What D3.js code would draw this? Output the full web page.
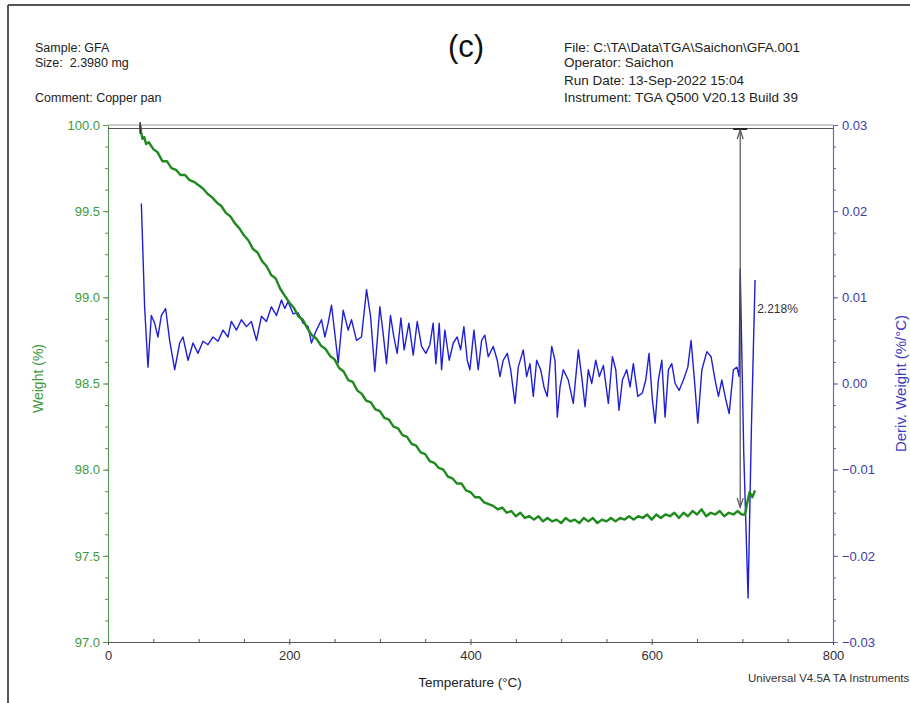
<!DOCTYPE html>
<html>
<head>
<meta charset="utf-8">
<script src="https://cdn.jsdelivr.net/npm/d3@7"></script>
<style>
  body { margin: 0; background: #fff; }
  text { font-family: "Liberation Sans", Arial, sans-serif; }
</style>
</head>
<body>
<script>
// TGA weight curve (green) - temperature (C) and weight (%)
const wTemp = [35.5, 36.5, 38, 40, 42, 45, 50, 55, 60, 65, 70, 75, 80, 85, 90, 95, 100, 105, 110, 115,
  120, 125, 130, 135, 140, 145, 150, 155, 160, 165, 170, 175, 180, 185, 190, 195, 200, 205, 210, 215,
  220, 225, 230, 235, 240, 245, 250, 255, 260, 265, 270, 275, 280, 285, 290, 295, 300, 305, 310, 315,
  320, 325, 330, 335, 340, 345, 350, 355, 360, 365, 370, 375, 380, 385, 390, 395, 400, 405, 410, 415,
  420, 425, 430, 435, 440, 445, 450, 455, 460, 465, 470, 475, 480, 485, 490, 495, 500, 505, 510, 515,
  520, 525, 530, 535, 540, 545, 550, 555, 560, 565, 570, 575, 580, 585, 590, 595, 600, 605, 610, 615,
  620, 625, 630, 635, 640, 645, 650, 655, 660, 665, 670, 675, 680, 685, 690, 695, 699, 703, 705, 708, 711, 714];
const weight = [100.00, 99.96, 99.92, 99.93, 99.89, 99.90, 99.86, 99.84, 99.79, 99.79, 99.75, 99.74, 99.71, 99.71, 99.68, 99.67, 99.65, 99.63, 99.60, 99.58,
  99.55, 99.53, 99.49, 99.47, 99.43, 99.40, 99.36, 99.33, 99.28, 99.26, 99.21, 99.18, 99.13, 99.11, 99.05, 99.01, 98.97, 98.94, 98.89, 98.87,
  98.82, 98.78, 98.76, 98.72, 98.70, 98.66, 98.64, 98.59, 98.57, 98.52, 98.51, 98.46, 98.44, 98.40, 98.39, 98.35, 98.34, 98.30, 98.29, 98.25,
  98.24, 98.20, 98.19, 98.15, 98.14, 98.10, 98.09, 98.05, 98.04, 98.01, 98.00, 97.96, 97.95, 97.92, 97.92, 97.88, 97.87, 97.84, 97.84, 97.81,
  97.80, 97.79, 97.77, 97.78, 97.75, 97.76, 97.73, 97.75, 97.72, 97.73, 97.71, 97.73, 97.70, 97.72, 97.70, 97.71, 97.69, 97.72, 97.70, 97.71,
  97.69, 97.72, 97.70, 97.72, 97.69, 97.71, 97.70, 97.72, 97.70, 97.72, 97.71, 97.73, 97.71, 97.73, 97.72, 97.74, 97.71, 97.74, 97.72, 97.74,
  97.73, 97.75, 97.72, 97.75, 97.73, 97.76, 97.74, 97.77, 97.73, 97.75, 97.74, 97.76, 97.73, 97.75, 97.74, 97.76, 97.74, 97.74, 97.80, 97.87, 97.84, 97.88];

// Derivative curve (blue) - temperature (C) and deriv weight (%/C)
const dTemp = [36.8, 40.4, 44.1, 47.8, 51.5, 55.1, 58.9, 63.6, 68.0, 73.6, 79.1, 82.7, 88.3, 93.8, 99.3, 104.8, 110.3, 115.9, 121.4, 126.9,
  132.4, 136.1, 141.7, 147.2, 152.7, 158.2, 163.8, 169.3, 174.8, 180.3, 185.9, 191.4, 195.1, 198.7, 204.2, 209.8, 215.3, 220.8, 224.5, 230.0,
  235.6, 239.3, 242.9, 246.6, 250.3, 254.0, 259.5, 265.0, 268.7, 274.2, 279.7, 285.3, 289.7, 294.4, 300.0, 303.6, 307.3, 311.7, 315.4, 319.1,
  323.2, 326.8, 332.0, 336.8, 341.2, 346.0, 350.8, 355.2, 358.8, 361.8, 365.5, 368.1, 371.7, 376.5, 381.0, 385.3, 389.1, 392.7, 396.4, 399.3,
  403.8, 408.5, 412.3, 415.9, 419.6, 425.1, 429.5, 432.5, 436.1, 440.6, 444.3, 449.1, 452.7, 458.2, 462.0, 465.6, 469.3, 473.0, 477.4, 481.1,
  484.7, 489.6, 493.2, 495.8, 498.8, 502.4, 507.9, 513.4, 519.0, 522.7, 526.4, 530.0, 533.8, 538.2, 542.2, 546.6, 552.1, 556.6, 560.3, 563.9,
  567.6, 572.4, 576.1, 579.7, 584.6, 589.6, 593.4, 597.0, 600.7, 603.7, 607.3, 611.1, 614.7, 618.4, 622.1, 625.8, 630.2, 634.9, 639.8, 643.4,
  647.1, 650.8, 655.3, 660.8, 665.5, 669.9, 673.6, 677.3, 681.8, 685.4, 690.1, 693.9, 696.4, 697.6, 701.5, 706.3, 710.0, 714.0];
const deriv = [0.0209, 0.0089, 0.0019, 0.0079, 0.0070, 0.0054, 0.0079, 0.0087, 0.0050, 0.0016, 0.0047, 0.0054, 0.0027, 0.0047, 0.0035, 0.0049, 0.0045, 0.0054, 0.0049, 0.0062,
  0.0054, 0.0072, 0.0062, 0.0074, 0.0066, 0.0072, 0.0050, 0.0078, 0.0072, 0.0089, 0.0079, 0.0097, 0.0087, 0.0095, 0.0081, 0.0082, 0.0070, 0.0066, 0.0047, 0.0062,
  0.0074, 0.0054, 0.0070, 0.0091, 0.0058, 0.0024, 0.0085, 0.0062, 0.0074, 0.0050, 0.0054, 0.0109, 0.0078, 0.0014, 0.0089, 0.0058, 0.0023, 0.0079, 0.0054, 0.0035,
  0.0076, 0.0039, 0.0070, 0.0033, 0.0072, 0.0043, 0.0035, 0.0045, 0.0070, 0.0023, 0.0070, 0.0016, 0.0062, 0.0027, 0.0047, 0.0054, 0.0039, 0.0066, 0.0027, 0.0016,
  0.0062, 0.0016, 0.0050, 0.0056, 0.0031, 0.0043, 0.0027, 0.0008, 0.0027, 0.0035, 0.0016, -0.0023, 0.0019, 0.0039, 0.0008, 0.0023, -0.0015, 0.0027, 0.0016, -0.0004,
  -0.0015, 0.0043, 0.0027, -0.0039, -0.0004, 0.0016, 0.0004, -0.0023, 0.0039, 0.0008, -0.0027, 0.0016, 0.0000, 0.0027, 0.0008, 0.0021, -0.0023, 0.0031, 0.0016, -0.0031,
  0.0004, 0.0016, -0.0004, 0.0023, -0.0015, -0.0011, 0.0004, 0.0035, -0.0019, -0.0046, 0.0004, 0.0027, -0.0039, 0.0016, 0.0023, 0.0000, -0.0008, 0.0004, 0.0019, 0.0050,
  0.0004, -0.0046, 0.0016, 0.0037, 0.0031, 0.0004, -0.0015, 0.0004, -0.0019, -0.0035, 0.0016, 0.0019, 0.0008, 0.0133, -0.0080, -0.0249, -0.0050, 0.0120];

// Axis ticks
const xTicks = [0, 200, 400, 600, 800];
const wTicks = [97.0, 97.5, 98.0, 98.5, 99.0, 99.5, 100.0];
const dTicks = [-0.03, -0.02, -0.01, 0.00, 0.01, 0.02, 0.03];

// Step annotation: start temp, end temp, weight change
const stepStart = 35.5;
const stepTemp = 697.6;
const stepLoss = 2.218;

const headerLeft = ["Sample: GFA", "Size:  2.3980 mg", "Comment: Copper pan"];
const headerRight = ["File: C:\\TA\\Data\\TGA\\Saichon\\GFA.001", "Operator: Saichon",
  "Run Date: 13-Sep-2022 15:04", "Instrument: TGA Q500 V20.13 Build 39"];

const W = 910, H = 703;
const pLeft = 108, pRight = 833, pTop = 125, pBottom = 642;

const svg = d3.select("body").append("svg")
  .attr("width", W)
  .attr("height", H);

// page frame (top and left edge of scanned page)
svg.append("line").attr("x1", 8).attr("x2", W).attr("y1", 5).attr("y2", 5)
  .attr("stroke", "#555").attr("stroke-width", 2);
svg.append("line").attr("x1", 8).attr("x2", 8).attr("y1", 5).attr("y2", H)
  .attr("stroke", "#555").attr("stroke-width", 2);

const x = d3.scaleLinear().domain([0, 800]).range([pLeft, pRight]);
const yW = d3.scaleLinear().domain([97, 100]).range([pBottom, pTop]);
const yD = d3.scaleLinear().domain([-0.03, 0.03]).range([pBottom, pTop]);

// header text
const leftY = [47, 62, 97];
svg.selectAll(".hl").data(headerLeft).join("text")
  .attr("class", "hl")
  .attr("x", 35).attr("y", (d, i) => leftY[i] + 4.5)
  .attr("font-size", 12.5).attr("fill", "#222")
  .style("white-space", "pre")
  .text(d => d);
const rightY = [47, 62, 80, 97];
svg.selectAll(".hr").data(headerRight).join("text")
  .attr("class", "hr")
  .attr("x", 564).attr("y", (d, i) => rightY[i] + 4.5)
  .attr("font-size", 13.5).attr("fill", "#222")
  .text(d => d);
svg.append("text").attr("x", 466).attr("y", 57)
  .attr("text-anchor", "middle").attr("font-size", 31).attr("fill", "#111")
  .text("(c)");

// top frame line
svg.append("line").attr("x1", pLeft).attr("x2", pRight).attr("y1", pTop).attr("y2", pTop)
  .attr("stroke", "#999").attr("stroke-width", 1.2);

// minor ticks
const minorW = d3.range(97, 100.001, 0.125);
const minorD = d3.range(-0.03, 0.0301, 0.0025);
const minorX = d3.range(0, 801, 50);

svg.append("g").attr("transform", `translate(${pLeft},0)`)
  .call(d3.axisLeft(yW).tickValues(minorW).tickSize(3).tickFormat(""))
  .call(g => g.select(".domain").remove())
  .selectAll("line").attr("stroke", "#5a9a5a");
svg.append("g").attr("transform", `translate(${pRight},0)`)
  .call(d3.axisRight(yD).tickValues(minorD).tickSize(3).tickFormat(""))
  .call(g => g.select(".domain").remove())
  .selectAll("line").attr("stroke", "#6a6ab0");
svg.append("g").attr("transform", `translate(0,${pBottom})`)
  .call(d3.axisTop(x).tickValues(minorX).tickSize(3).tickFormat(""))
  .call(g => g.select(".domain").remove())
  .selectAll("line").attr("stroke", "#555");

// left axis (weight)
const axL = svg.append("g").attr("transform", `translate(${pLeft},0)`)
  .call(d3.axisLeft(yW).tickValues(wTicks).tickSize(5).tickPadding(3).tickSizeOuter(0).tickFormat(d3.format(".1f")));
axL.select(".domain").attr("stroke", "#5a9a5a").attr("stroke-width", 1.2);
axL.selectAll("line").attr("stroke", "#5a9a5a");
axL.selectAll("text").attr("font-size", 13).attr("fill", "#3d9a3d")
  .style("font-family", "'Liberation Sans', Arial, sans-serif");

// right axis (deriv weight)
const axR = svg.append("g").attr("transform", `translate(${pRight},0)`)
  .call(d3.axisRight(yD).tickValues(dTicks).tickSize(5).tickPadding(4).tickSizeOuter(0).tickFormat(d3.format(".2f")));
axR.select(".domain").attr("stroke", "#6a6ab0").attr("stroke-width", 1.2);
axR.selectAll("line").attr("stroke", "#6a6ab0");
axR.selectAll("text").attr("font-size", 13).attr("fill", "#3c3ca8")
  .style("font-family", "'Liberation Sans', Arial, sans-serif");

// bottom axis (temperature)
const axB = svg.append("g").attr("transform", `translate(0,${pBottom})`)
  .call(d3.axisBottom(x).tickValues(xTicks).tickSize(3).tickPadding(6).tickSizeOuter(0).tickFormat(d3.format("d")));
axB.select(".domain").attr("stroke", "#555").attr("stroke-width", 1.2);
axB.selectAll("line").attr("stroke", "#555");
axB.selectAll("text").attr("font-size", 13).attr("fill", "#333")
  .style("font-family", "'Liberation Sans', Arial, sans-serif");

// axis titles
svg.append("text").attr("x", 470).attr("y", 687)
  .attr("text-anchor", "middle").attr("font-size", 13.5).attr("fill", "#222")
  .text("Temperature (°C)");
svg.append("text").attr("transform", `translate(43,${(pTop + pBottom) / 2 - 5}) rotate(-90)`)
  .attr("text-anchor", "middle").attr("font-size", 14).attr("fill", "#3d9a3d")
  .text("Weight (%)");
svg.append("text").attr("transform", `translate(906,${(pTop + pBottom) / 2}) rotate(-90)`)
  .attr("text-anchor", "middle").attr("font-size", 15).attr("fill", "#3c3cc0")
  .text("Deriv. Weight (%/°C)");
svg.append("text").attr("x", 748).attr("y", 682)
  .attr("font-size", 11.5).attr("fill", "#333")
  .text("Universal V4.5A TA Instruments");

// curves
const green = wTemp.map((t, i) => [t, weight[i]]);
const blue = dTemp.map((t, i) => [t, deriv[i]]);

svg.append("path").datum(blue)
  .attr("fill", "none").attr("stroke", "#1f1fd8").attr("stroke-width", 1.4)
  .attr("stroke-linejoin", "round")
  .attr("d", d3.line().x(d => x(d[0])).y(d => yD(d[1])));

svg.append("path").datum(green)
  .attr("fill", "none").attr("stroke", "#1e8a1e").attr("stroke-width", 2.4)
  .attr("stroke-linejoin", "round")
  .attr("d", d3.line().x(d => x(d[0])).y(d => yW(d[1])));

// step annotation
const ann = svg.append("g").attr("stroke", "#555").attr("fill", "none");
ann.append("line")
  .attr("x1", pLeft).attr("x2", pRight)
  .attr("y1", yW(100) + 3.5).attr("y2", yW(100) + 3.5)
  .attr("stroke-width", 1.2);
ann.append("line")
  .attr("x1", x(stepStart)).attr("x2", x(stepStart))
  .attr("y1", yW(100) - 3).attr("y2", yW(100) + 9)
  .attr("stroke", "#333").attr("stroke-width", 1.5);
const ax = x(stepTemp);
const yTop = yW(100) + 4, yBot = yW(100 - stepLoss);
ann.append("line").attr("x1", ax).attr("x2", ax).attr("y1", yTop).attr("y2", yBot)
  .attr("stroke-width", 1.2);
ann.append("line").attr("x1", ax - 7).attr("x2", ax + 7).attr("y1", yTop).attr("y2", yTop)
  .attr("stroke", "#222").attr("stroke-width", 2);
ann.append("path").attr("d", `M${ax - 3},${yTop + 10}L${ax},${yTop + 1}L${ax + 3},${yTop + 10}`)
  .attr("stroke-width", 1.2);
ann.append("path").attr("d", `M${ax - 3},${yBot - 9}L${ax},${yBot}L${ax + 3},${yBot - 9}`)
  .attr("stroke-width", 1.2);
svg.append("text").attr("x", ax + 17).attr("y", 313)
  .attr("font-size", 12).attr("fill", "#333")
  .text(stepLoss.toFixed(3) + "%");
</script>
</body>
</html>
